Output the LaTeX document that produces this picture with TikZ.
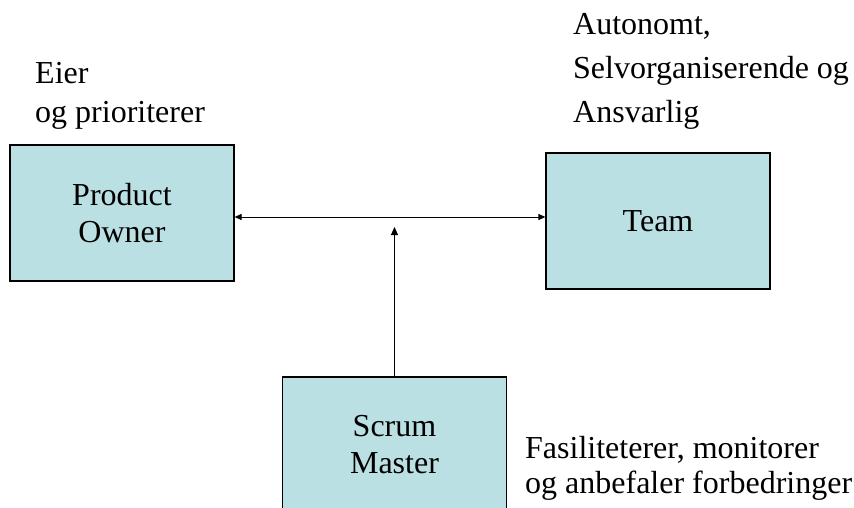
\documentclass[tikz,border=0pt]{standalone}
\usepackage{fontspec}
\setmainfont{Liberation Serif}
\usetikzlibrary{arrows.meta}
\definecolor{boxfill}{HTML}{BBE0E3}
\begin{document}
\begin{tikzpicture}[x=1pt,y=-1pt,
  rolebox/.style={draw=black,line width=1.2pt,fill=boxfill,
    minimum width=224pt,minimum height=136pt,inner sep=0pt,
    align=center,font=\fontsize{32}{37}\selectfont},
  note/.style={inner sep=0pt,align=left,anchor=base west},
  link/.style={line width=1pt,{Triangle[length=7pt,width=6pt]}-{Triangle[length=7pt,width=6pt]}},
  push/.style={line width=1pt,-{Triangle[length=8pt,width=7pt]}}]
  \useasboundingbox (0,0) rectangle (854,508);
  \clip (0,0) rectangle (854,508);

  % the three roles
  \node[rolebox] (po) at (122,213) {Product\\Owner};
  \node[rolebox] (team) at (658,221) {Team};
  \node[rolebox] (sm) at (394.5,445) {Scrum\\Master};

  % where the lines meet
  \coordinate (mid) at (394.5,217);
  \coordinate (tip) at (394.5,227);

  \draw[link] (po.east |- mid) -- (team.west |- mid);
  \draw[push] (sm.north) -- (tip);

  % descriptions of each role
  \node[note,font=\fontsize{32}{39}\selectfont] (poText) at (35,123)
    {Eier\\og prioriterer};
  \node[note,font=\fontsize{32}{44}\selectfont] (teamText) at (573,123)
    {Autonomt,\\Selvorganiserende og\\Ansvarlig};
  \node[note,font=\fontsize{32}{35}\selectfont] (smText) at (525,493)
    {Fasiliteterer, monitorer\\og anbefaler forbedringer};
\end{tikzpicture}
\end{document}
